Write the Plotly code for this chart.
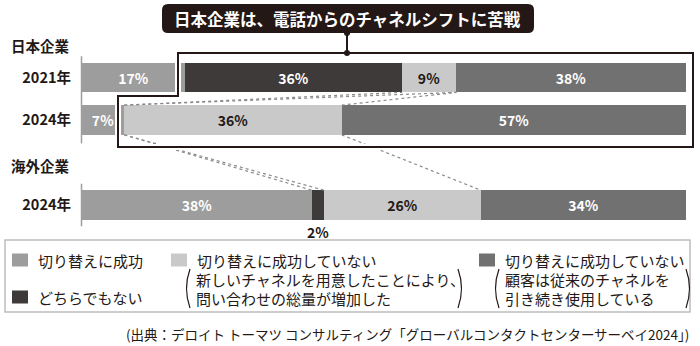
import plotly.graph_objects as go

# ---------------- data ----------------
ROW_LABELS = ["2021年", "2024年", "2024年"]
GROUP_LABELS = ["日本企業", "海外企業"]
SERIES_NAMES = [
    "切り替えに成功",
    "どちらでもない",
    "切り替えに成功していない（新しいチャネルを用意したことにより、問い合わせの総量が増加した）",
    "切り替えに成功していない（顧客は従来のチャネルを引き続き使用している）",
]
SUCCESS = [17, 7, 38]
NEUTRAL = [36, 0, 2]
NOT_NEW = [9, 36, 26]
NOT_OLD = [38, 57, 34]
TITLE = "日本企業は、電話からのチャネルシフトに苦戦"
LEGEND_MAIN = ["切り替えに成功", "どちらでもない", "切り替えに成功していない", "切り替えに成功していない"]
LEGEND_NOTE_NEW = ["新しいチャネルを用意したことにより、", "問い合わせの総量が増加した"]
LEGEND_NOTE_OLD = ["顧客は従来のチャネルを", "引き続き使用している"]
SOURCE = "(出典：デロイト トーマツ コンサルティング「グローバルコンタクトセンターサーベイ2024」)"

# ---------------- layout constants ----------------
W, H = 700, 346
ML, MR, MT, MB = 82, 14, 40, 106
PW, PH = W - ML - MR, H - MT - MB
ROW_POS = [0, 1, 3]
BAR_W = 0.7
UNIT = 42.5  # px per y unit
Y_TOP = -(77.5 - MT) / UNIT
Y_BOT = Y_TOP + PH / UNIT
FONT = "Noto Sans CJK JP, Noto Sans, sans-serif"
INK = "#231815"
COLORS = ["#9d9d9d", "#3e3a39", "#c9c9c9", "#727171"]
TEXT_COLORS = ["white", "white", INK, "white"]


def PX(px):
    return (px - ML) / PW


def PY(py):
    return (MT + PH - py) / PH


def note(x, y, text, size=14.5, color=INK, xanchor="left", bold=False):
    return dict(xref="paper", yref="paper", x=PX(x), y=PY(y), xanchor=xanchor, yanchor="middle",
                text=f"<b>{text}</b>" if bold else text, showarrow=False,
                font=dict(color=color, size=size, family=FONT))


series = [SUCCESS, NEUTRAL, NOT_NEW, NOT_OLD]

fig = go.Figure()
for name, vals, col, tcol in zip(SERIES_NAMES, series, COLORS, TEXT_COLORS):
    fig.add_trace(go.Bar(
        x=vals, y=ROW_POS, orientation="h", name=name,
        width=BAR_W, marker=dict(color=col, line=dict(width=0)),
        text=[f"<b>{v}%</b>" if v >= 5 else "" for v in vals],
        textposition="inside", insidetextanchor="middle", textangle=0,
        textfont=dict(color=tcol, size=14, family=FONT),
        hoverinfo="skip", showlegend=False,
    ))

# cumulative edges per row
cum = []
for r in range(len(ROW_POS)):
    c = [0]
    for s in series:
        c.append(c[-1] + s[r])
    cum.append(c)

shapes = []
annotations = []

# dotted connector lines (computed from data edges)
half = BAR_W / 2
dot_pairs = [
    ((cum[1][2], ROW_POS[1] - half), (cum[0][2], ROW_POS[0] + half)),
    ((cum[1][2], ROW_POS[1] - half), (cum[0][3], ROW_POS[0] + half)),
    ((cum[1][3], ROW_POS[1] - half), (cum[0][3], ROW_POS[0] + half)),
    ((cum[1][2], ROW_POS[1] + half), (cum[2][1], ROW_POS[2] - half)),
    ((cum[1][2], ROW_POS[1] + half), (cum[2][2], ROW_POS[2] - half)),
    ((cum[1][3], ROW_POS[1] + half), (cum[2][3], ROW_POS[2] - half)),
]
for (x0, y0), (x1, y1) in dot_pairs:
    shapes.append(dict(type="line", xref="x", yref="y", x0=x0, y0=y0, x1=x1, y1=y1,
                       line=dict(color="#8a8a8a", width=1.2, dash="dot"), layer="above"))

# vertical axis lines for each group
for y0, y1 in [(ROW_POS[0] - 0.5, ROW_POS[1] + 0.55), (ROW_POS[2] - 0.5, ROW_POS[2] + 0.5)]:
    shapes.append(dict(type="line", xref="paper", yref="y", x0=PX(81.5), x1=PX(81.5), y0=y0, y1=y1,
                       line=dict(color="#9d9d9d", width=1.5)))

# highlight frame (stepped polygon)
frame_pts = [(178, 53), (693, 53), (693, 147), (118, 147), (118, 96), (178, 96)]
frame_path = "M " + " L ".join(f"{PX(x)},{PY(y)}" for x, y in frame_pts) + " Z"
shapes.append(dict(type="path", xref="paper", yref="paper", path=frame_path,
                   line=dict(color="white", width=6), layer="above"))
shapes.append(dict(type="path", xref="paper", yref="paper", path=frame_path,
                   line=dict(color=INK, width=2), layer="above"))

# title box (rounded)
bx0, bx1, by0, by1, rr = 162, 534, 4, 33, 6
tp = (f"M {PX(bx0+rr)},{PY(by0)} L {PX(bx1-rr)},{PY(by0)} Q {PX(bx1)},{PY(by0)} {PX(bx1)},{PY(by0+rr)} "
      f"L {PX(bx1)},{PY(by1-rr)} Q {PX(bx1)},{PY(by1)} {PX(bx1-rr)},{PY(by1)} "
      f"L {PX(bx0+rr)},{PY(by1)} Q {PX(bx0)},{PY(by1)} {PX(bx0)},{PY(by1-rr)} "
      f"L {PX(bx0)},{PY(by0+rr)} Q {PX(bx0)},{PY(by0)} {PX(bx0+rr)},{PY(by0)} Z")
shapes.append(dict(type="path", xref="paper", yref="paper", path=tp,
                   fillcolor=INK, line=dict(width=0), layer="above"))
annotations.append(note(347, 18.5, TITLE, size=16.5, color="white", xanchor="center", bold=True))
# connector with dots
shapes.append(dict(type="line", xref="paper", yref="paper", x0=PX(347), x1=PX(347), y0=PY(33), y1=PY(53),
                   line=dict(color=INK, width=2), layer="above"))
for cy in (33, 53):
    shapes.append(dict(type="circle", xref="paper", yref="paper", x0=PX(344), x1=PX(350),
                       y0=PY(cy - 3), y1=PY(cy + 3), fillcolor=INK, line=dict(width=0), layer="above"))

# group labels
for lbl, py in zip(GROUP_LABELS, [45, 165]):
    annotations.append(note(9, py, lbl, bold=True))

# small-value label below bar (2%)
annotations.append(dict(xref="x", yref="y", x=cum[2][1] + NEUTRAL[2] / 2, y=ROW_POS[2] + half,
                        yanchor="middle", xanchor="center", yshift=-12, text=f"<b>{NEUTRAL[2]}%</b>",
                        showarrow=False, font=dict(color=INK, size=14, family=FONT)))

# legend box
shapes.append(dict(type="rect", xref="paper", yref="paper", x0=PX(5), x1=PX(690), y0=PY(240), y1=PY(312),
                   line=dict(color="#bdbdbd", width=1.5)))
leg_items = [(12, 260, COLORS[0], LEGEND_MAIN[0]), (12, 297, COLORS[1], LEGEND_MAIN[1]),
             (171, 260, COLORS[2], LEGEND_MAIN[2]), (479, 260, COLORS[3], LEGEND_MAIN[3])]
for sx, sy, col, txt in leg_items:
    shapes.append(dict(type="rect", xref="paper", yref="paper", x0=PX(sx), x1=PX(sx + 16),
                       y0=PY(sy - 6.5), y1=PY(sy + 6.5), fillcolor=col, line=dict(width=0)))
    annotations.append(note(sx + 24, sy, txt, size=15))
for x0, lines in [(194, LEGEND_NOTE_NEW), (503, LEGEND_NOTE_OLD)]:
    for line, py in zip(lines, [279, 298]):
        annotations.append(note(x0, py, line, size=15))
for lx, rx in [(190, 458), (499, 686)]:
    for x, d in [(lx, -7), (rx, 7)]:
        shapes.append(dict(type="path", xref="paper", yref="paper",
                           path=f"M {PX(x)},{PY(269)} Q {PX(x + d)},{PY(288.5)} {PX(x)},{PY(308)}",
                           line=dict(color=INK, width=1.2)))

# source
annotations.append(note(691, 334, SOURCE, size=13.5, xanchor="right"))

fig.update_layout(
    width=W, height=H, margin=dict(l=ML, r=MR, t=MT, b=MB),
    barmode="stack", bargap=0, plot_bgcolor="white", paper_bgcolor="white",
    xaxis=dict(range=[0, 100], visible=False, fixedrange=True),
    yaxis=dict(range=[Y_BOT, Y_TOP], tickvals=ROW_POS, ticktext=[f"<b>{t}</b>" for t in ROW_LABELS],
               showgrid=False, zeroline=False, showline=False, ticks="", ticklabelstandoff=10,
               tickfont=dict(size=14.5, color=INK, family=FONT), fixedrange=True),
    shapes=shapes, annotations=annotations, showlegend=False,
    uniformtext=dict(minsize=8, mode="show"),
)

fig.write_html("out.html")
